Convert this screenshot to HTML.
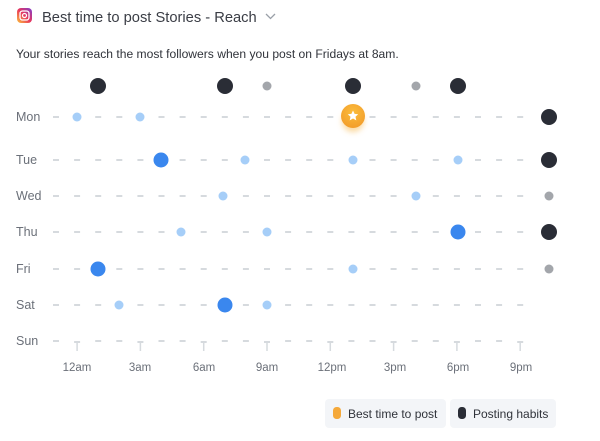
<!DOCTYPE html><html><head><style>
body{margin:0;width:600px;height:441px;background:#fff;font-family:"Liberation Sans",sans-serif;overflow:hidden;position:relative}
</style></head><body>
<svg width="600" height="441" style="position:absolute;left:0;top:0" font-family="Liberation Sans, sans-serif">
<defs>
<linearGradient id="ig" x1="0" y1="1" x2="1" y2="0"><stop offset="0" stop-color="#fdc23a"/><stop offset=".5" stop-color="#e8365d"/><stop offset="1" stop-color="#7b3fd0"/></linearGradient>
<radialGradient id="st" cx=".5" cy=".35" r=".7"><stop offset="0" stop-color="#fbbd3c"/><stop offset="1" stop-color="#f29b2a"/></radialGradient>
<filter id="gl" x="-1" y="-1" width="3" height="3"><feGaussianBlur stdDeviation="3"/></filter>
</defs>
<rect x="17" y="8" width="15" height="15" rx="4" fill="url(#ig)"/>
<rect x="20" y="11" width="9" height="9" rx="2.5" fill="none" stroke="#fff" stroke-width="1.3"/>
<circle cx="24.5" cy="15.5" r="2" fill="none" stroke="#fff" stroke-width="1.2"/>
<text x="42" y="22" font-size="14.7" fill="#3a3d45">Best time to post Stories - Reach</text>
<path d="M266 14 l4.5 4.5 l4.5-4.5" fill="none" stroke="#9aa0a8" stroke-width="1.3"/>
<text x="16" y="58" font-size="12.1" fill="#30333a">Your stories reach the most followers when you post on Fridays at 8am.</text>
<g font-size="12.5" fill="#6b7079">
<text x="16" y="121">Mon</text><text x="16" y="164">Tue</text><text x="16" y="200">Wed</text><text x="16" y="236">Thu</text><text x="16" y="273">Fri</text><text x="16" y="309">Sat</text><text x="16" y="345">Sun</text>
</g>
<g id="dashes" stroke="#d6dade" stroke-width="2"></g>
<g fill="#6b7079" font-size="11.5" text-anchor="middle">
<text x="77" y="371">12am</text><text x="140" y="371">3am</text><text x="204" y="371">6am</text><text x="267" y="371">9am</text><text x="332" y="371">12pm</text><text x="395" y="371">3pm</text><text x="458" y="371">6pm</text><text x="521" y="371">9pm</text>
</g>
<g fill="#2a2d36">
<circle cx="98" cy="86" r="8"/><circle cx="225" cy="86" r="8"/><circle cx="353" cy="86" r="8"/><circle cx="458" cy="86" r="8"/>
<circle cx="549" cy="117" r="8"/><circle cx="549" cy="160" r="8"/><circle cx="549" cy="232" r="8"/>
</g>
<g fill="#a3a6ab"><circle cx="267" cy="86" r="4.5"/><circle cx="416" cy="86" r="4.5"/><circle cx="549" cy="196" r="4.5"/><circle cx="549" cy="269" r="4.5"/></g>
<g fill="#a6cef8">
<circle cx="77" cy="117" r="4.5"/><circle cx="140" cy="117" r="4.5"/>
<circle cx="245" cy="160" r="4.5"/><circle cx="353" cy="160" r="4.5"/><circle cx="458" cy="160" r="4.5"/>
<circle cx="223" cy="196" r="4.5"/><circle cx="416" cy="196" r="4.5"/>
<circle cx="181" cy="232" r="4.5"/><circle cx="267" cy="232" r="4.5"/>
<circle cx="353" cy="269" r="4.5"/>
<circle cx="119" cy="305" r="4.5"/><circle cx="267" cy="305" r="4.5"/>
</g>
<g fill="#3a87ee"><circle cx="161" cy="160" r="7.5"/><circle cx="458" cy="232" r="7.5"/><circle cx="98" cy="269" r="7.5"/><circle cx="225" cy="305" r="7.5"/></g>
<circle cx="353" cy="121" r="11" fill="#f7b445" opacity=".5" filter="url(#gl)"/>
<circle cx="353" cy="116" r="12" fill="url(#st)"/>
<path d="M353 110.5 l1.6 3.4 3.6.4-2.7 2.5.8 3.6-3.3-1.9-3.3 1.9.8-3.6-2.7-2.5 3.6-.4z" fill="#fff"/>
<rect x="325" y="399" width="121" height="29" rx="4" fill="#f3f5f8"/>
<rect x="450" y="399" width="106" height="29" rx="4" fill="#f3f5f8"/>
<rect x="333" y="407" width="8" height="12" rx="3.5" fill="#f5a93a"/>
<rect x="458" y="407" width="8" height="12" rx="3.5" fill="#2a2d36"/>
<text x="348" y="418" font-size="12" fill="#30333a">Best time to post</text>
<text x="473" y="418" font-size="12" fill="#30333a">Posting habits</text>
</svg>
<script>
var g=document.getElementById('dashes'),rows=[117,160,196,232,269,305,341],s='';
var dots={117:[77,140,353],160:[161,245,353,458],196:[223,416],232:[181,267,458],269:[98,353],305:[119,225,267]};
for(var r of rows){for(var k=0;k<23;k++){var x=56+21.1*k;var skip=false;(dots[r]||[]).forEach(function(d){if(Math.abs(d-x)<9)skip=true});if(skip)continue;
if(r==341&&k%3==1){s+='<line x1="'+(x-3)+'" y1="'+(r+1)+'" x2="'+(x+3)+'" y2="'+(r+1)+'"/><line x1="'+x+'" y1="'+(r+1)+'" x2="'+x+'" y2="'+(r+10)+'" stroke-width="1.5"/>';}
else s+='<line x1="'+(x-3)+'" y1="'+r+'" x2="'+(x+3)+'" y2="'+r+'"/>';}}
g.innerHTML=s;
</script>
</body></html>
